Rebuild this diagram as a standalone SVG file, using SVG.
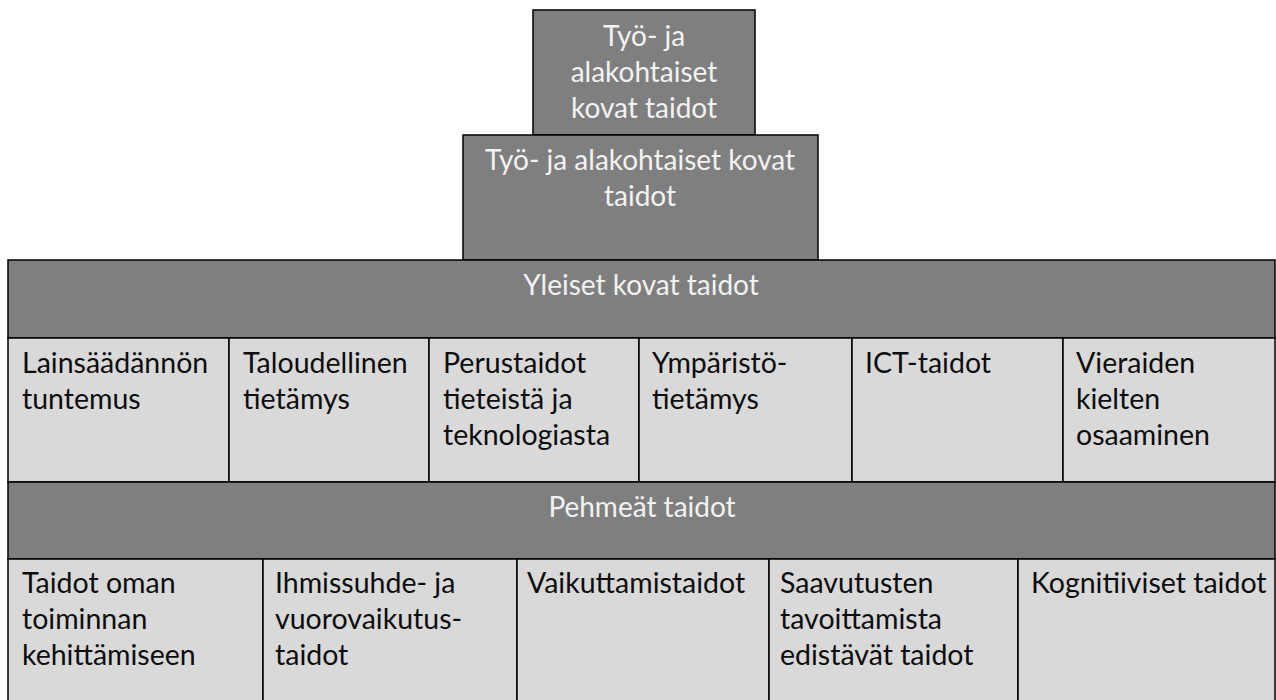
<svg xmlns="http://www.w3.org/2000/svg" width="1276" height="700" viewBox="0 0 1276 700">
<style>
.dark{fill:#7f7f7f;stroke:#000;stroke-width:1.5}
.light{fill:#d9d9d9;stroke:#000;stroke-width:1.5}
.wt{font-family:Lato,"Liberation Sans",sans-serif;font-size:28px;fill:#f2f2f2;text-anchor:middle}
.bt{font-family:Lato,"Liberation Sans",sans-serif;font-size:28.5px;fill:#0d0d0d}
</style>
<rect width="1276" height="700" fill="#fff"/>
<g id="top">
<rect class="dark" x="533" y="10" width="222" height="125"/>
<text class="wt"><tspan x="644" y="46">Työ- ja</tspan><tspan x="644" y="82">alakohtaiset</tspan><tspan x="644" y="118">kovat taidot</tspan></text>
</g>
<g id="second">
<rect class="dark" x="463" y="135" width="355" height="125"/>
<text class="wt"><tspan x="640" y="170">Työ- ja alakohtaiset kovat</tspan><tspan x="640" y="206">taidot</tspan></text>
</g>
<g id="yleiset">
<rect class="dark" x="8" y="260" width="1267" height="78"/>
<text class="wt" x="641" y="295">Yleiset kovat taidot</text>
</g>
<g id="c1"><rect class="light" x="8" y="338" width="221" height="144"/>
<text class="bt"><tspan x="22" y="373">Lainsäädännön</tspan><tspan x="22" y="409">tuntemus</tspan></text></g>
<g id="c2"><rect class="light" x="229" y="338" width="200" height="144"/>
<text class="bt"><tspan x="243" y="373">Taloudellinen</tspan><tspan x="243" y="409">tietämys</tspan></text></g>
<g id="c3"><rect class="light" x="429" y="338" width="210" height="144"/>
<text class="bt"><tspan x="443" y="373">Perustaidot</tspan><tspan x="443" y="409">tieteistä ja</tspan><tspan x="443" y="445">teknologiasta</tspan></text></g>
<g id="c4"><rect class="light" x="639" y="338" width="213" height="144"/>
<text class="bt"><tspan x="652" y="373">Ympäristö-</tspan><tspan x="652" y="409">tietämys</tspan></text></g>
<g id="c5"><rect class="light" x="852" y="338" width="211" height="144"/>
<text class="bt"><tspan x="865" y="373">ICT-taidot</tspan></text></g>
<g id="c6"><rect class="light" x="1063" y="338" width="212" height="144"/>
<text class="bt"><tspan x="1076" y="373">Vieraiden</tspan><tspan x="1076" y="409">kielten</tspan><tspan x="1076" y="445">osaaminen</tspan></text></g>
<g id="pehmeat">
<rect class="dark" x="8" y="482" width="1267" height="77"/>
<text class="wt" x="642" y="517">Pehmeät taidot</text>
</g>
<g id="s1"><rect class="light" x="8" y="559" width="255" height="145"/>
<text class="bt"><tspan x="22" y="593">Taidot oman</tspan><tspan x="22" y="629">toiminnan</tspan><tspan x="22" y="665">kehittämiseen</tspan></text></g>
<g id="s2"><rect class="light" x="263" y="559" width="254" height="145"/>
<text class="bt"><tspan x="275" y="593">Ihmissuhde- ja</tspan><tspan x="275" y="629">vuorovaikutus-</tspan><tspan x="275" y="665">taidot</tspan></text></g>
<g id="s3"><rect class="light" x="517" y="559" width="252" height="145"/>
<text class="bt"><tspan x="527" y="593">Vaikuttamistaidot</tspan></text></g>
<g id="s4"><rect class="light" x="769" y="559" width="249" height="145"/>
<text class="bt"><tspan x="780" y="593">Saavutusten</tspan><tspan x="780" y="629">tavoittamista</tspan><tspan x="780" y="665">edistävät taidot</tspan></text></g>
<g id="s5"><rect class="light" x="1018" y="559" width="257" height="145"/>
<text class="bt"><tspan x="1031" y="593">Kognitiiviset taidot</tspan></text></g>
<g id="connectors"/>
</svg>
